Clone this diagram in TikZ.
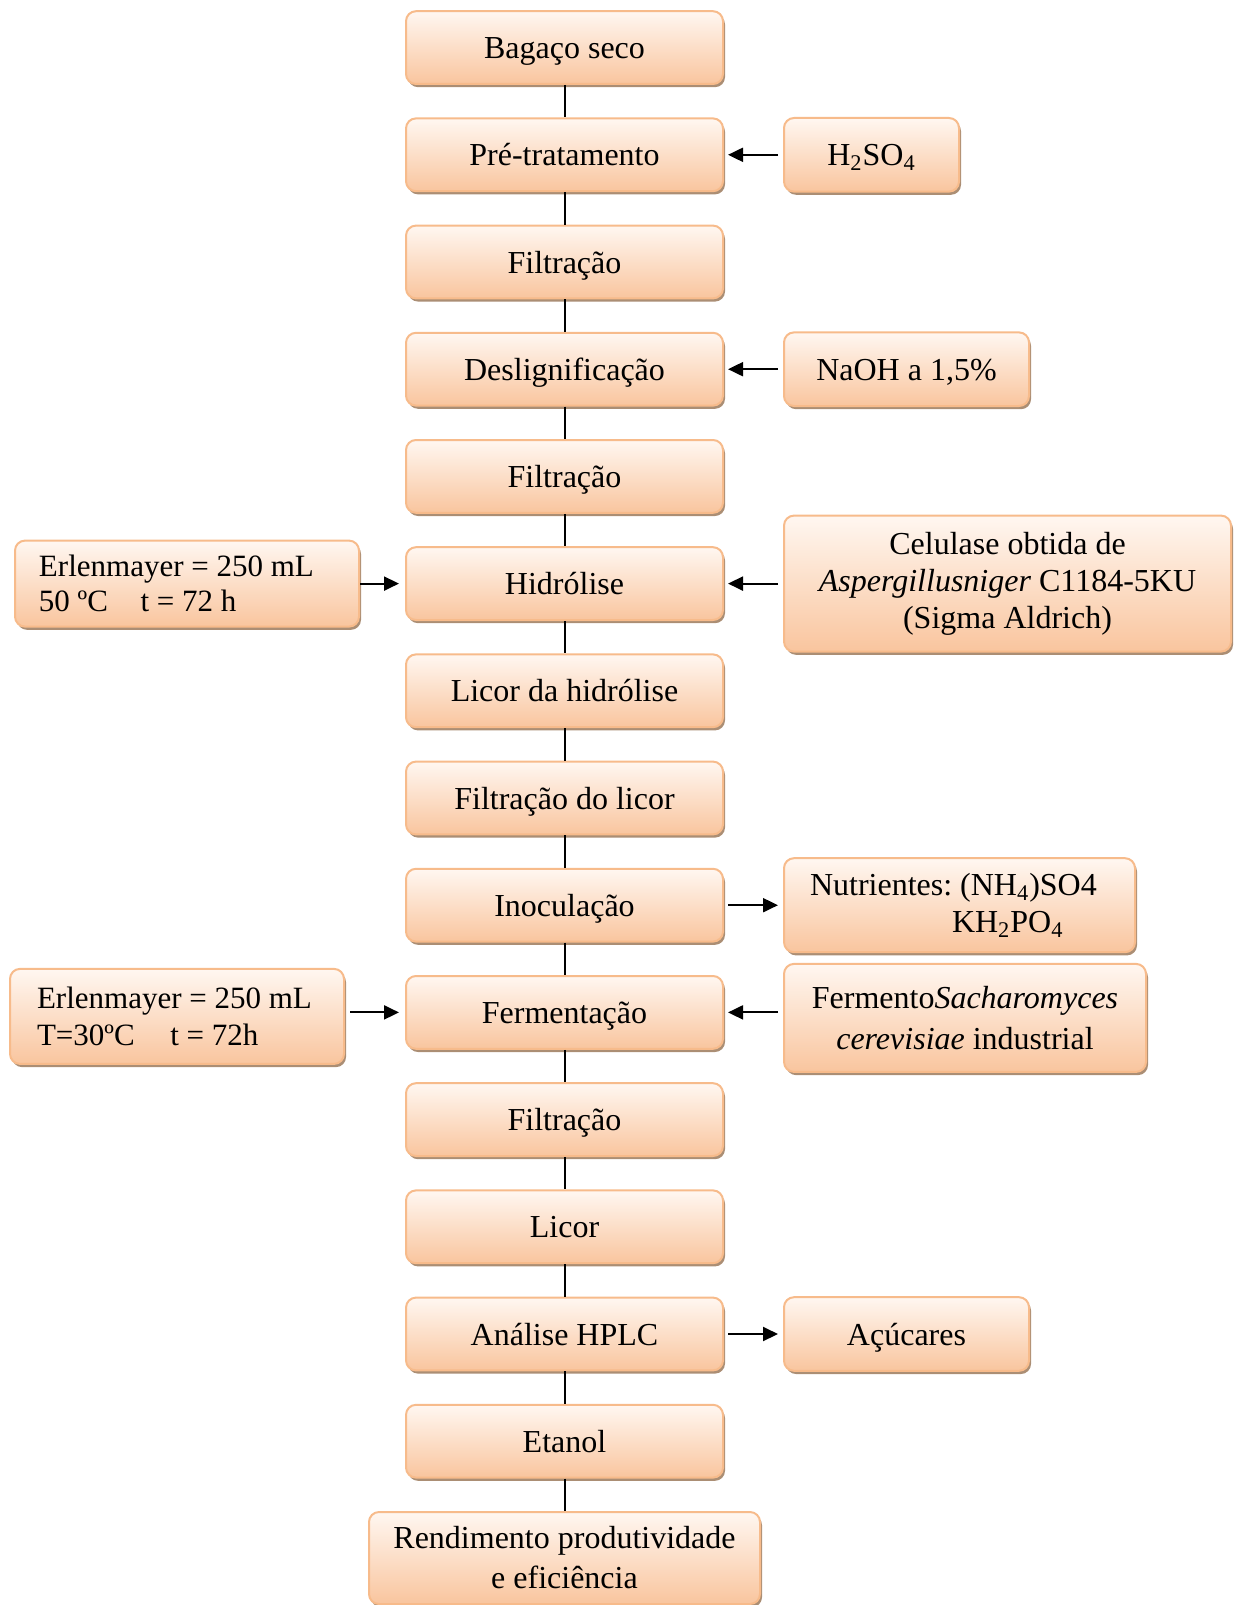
\documentclass[tikz,border=0pt]{standalone}
\usepackage{fontspec}
\setmainfont{Liberation Serif}
\usetikzlibrary{shapes, positioning, arrows.meta, shadows}
\definecolor{peachline}{HTML}{F7BB8B}
\definecolor{peachtop}{HTML}{FFF7F1}
\definecolor{peachbot}{HTML}{F9C59E}
\definecolor{peachshadow}{HTML}{9C7A5C}
\frenchspacing

\begin{document}
\begin{tikzpicture}[
    x=0.5pt, y=-0.5pt,
    node distance=16.2pt,
    box/.style={draw=peachline, line width=1pt, rounded corners=5pt,
      top color=peachtop, bottom color=peachbot,
      drop shadow={shadow xshift=1pt, shadow yshift=-1.6pt, fill=peachshadow, opacity=0.85},
      font=\fontsize{16}{18.5}\selectfont, align=center, inner sep=0pt},
    single/.style={box, text height=11pt, text depth=0pt},
    stage/.style={single, minimum width=158.5pt, minimum height=36.4pt},
    flask/.style={box, align=flush left, font=\fontsize{15.5}{17.4}\selectfont},
    feed/.style={-{Triangle[length=7.5pt,width=7pt]}, line width=1pt, shorten <=2.5pt, shorten >=2pt},
    link/.style={line width=1pt}
  ]
  \useasboundingbox (0,0) rectangle (1234,1605);
  \node[stage] (bagaco) at (564.5,47.6) {Bagaço seco};
  \node[stage, below=of bagaco] (pretrat) {Pré-tratamento};
  \node[stage, below=of pretrat] (filt1) {Filtração};
  \node[stage, below=of filt1] (deslig) {Deslignificação};
  \node[stage, below=of deslig] (filt2) {Filtração};
  \node[stage, below=of filt2] (hidro) {Hidrólise};
  \node[stage, below=of hidro] (licorh) {Licor da hidrólise};
  \node[stage, below=of licorh] (filtlic) {Filtração do licor};
  \node[stage, below=of filtlic] (inoc) {Inoculação};
  \node[stage, below=of inoc] (ferm) {Fermentação};
  \node[stage, below=of ferm] (filt3) {Filtração};
  \node[stage, below=of filt3] (licor) {Licor};
  \node[stage, below=of licor] (hplc) {Análise HPLC};
  \node[stage, below=of hplc] (etanol) {Etanol};
  \node[box, minimum width=195.5pt, minimum height=46pt, below=of etanol] (rend)
    {Rendimento produtividade\\[1.5pt]e eficiência};

  \node[single, minimum width=87.5pt, minimum height=36.8pt, right=29.5pt of pretrat] (hso)
    {H\textsubscript{2}SO\textsubscript{4}};
  \node[single, minimum width=122.5pt, minimum height=36.8pt, right=29.5pt of deslig] (naoh)
    {NaOH a 1,5\%};
  \node[box, minimum width=223.5pt, minimum height=68pt, right=29.5pt of hidro] (celul)
    {Celulase obtida de\\\textit{Aspergillusniger} C1184-5KU\\(Sigma Aldrich)};
  \node[box, minimum height=47pt, text width=149.5pt, inner xsep=13pt, align=flush left,
    right=29.5pt of inoc] (nutri)
    {Nutrientes: (NH\textsubscript{4})SO4\\\hspace*{71pt}KH\textsubscript{2}PO\textsubscript{4}};
  \node[box, minimum width=181pt, minimum height=54pt, right=29.5pt of ferm, yshift=-2.75pt] (fermento)
    {Fermento\textit{Sacharomyces}\\[2pt]\textit{cerevisiae} industrial};
  \node[single, minimum width=122.5pt, minimum height=36.8pt, right=29.5pt of hplc] (acuc)
    {Açúcares};
  \node[flask, minimum height=43pt, text width=148pt, inner xsep=12pt,
    left=22.5pt of hidro] (erl1)
    {Erlenmayer = 250 mL\\50 ºC\hspace{0.8em} t = 72 h};
  \node[flask, minimum height=47.5pt, text width=140pt, inner xsep=13.5pt,
    left=30pt of ferm, yshift=-2pt] (erl2)
    {Erlenmayer = 250 mL\\[0.8pt]T=30ºC\hspace{0.9em} t = 72h};

  \draw[link] (bagaco) -- (pretrat) (pretrat) -- (filt1) (filt1) -- (deslig)
    (deslig) -- (filt2) (filt2) -- (hidro) (hidro) -- (licorh) (licorh) -- (filtlic)
    (filtlic) -- (inoc) (inoc) -- (ferm) (ferm) -- (filt3) (filt3) -- (licor)
    (licor) -- (hplc) (hplc) -- (etanol) (etanol) -- (rend);

  \draw[feed] (hso) -- (pretrat);
  \draw[feed] (naoh) -- (deslig);
  \draw[feed] (celul.west |- hidro) -- (hidro.east);
  \draw[feed, shorten <=0pt, shorten >=3pt] (erl1.east |- hidro) -- (hidro.west);
  \draw[feed, shorten >=2.5pt, shorten <=2pt] (inoc.east) -- (nutri.west |- inoc);
  \draw[feed] (fermento.west |- ferm) -- (ferm.east);
  \draw[feed, shorten >=3pt] (erl2.east |- ferm) -- (ferm.west);
  \draw[feed, shorten >=2.5pt, shorten <=2pt] (hplc) -- (acuc);
\end{tikzpicture}
\end{document}
